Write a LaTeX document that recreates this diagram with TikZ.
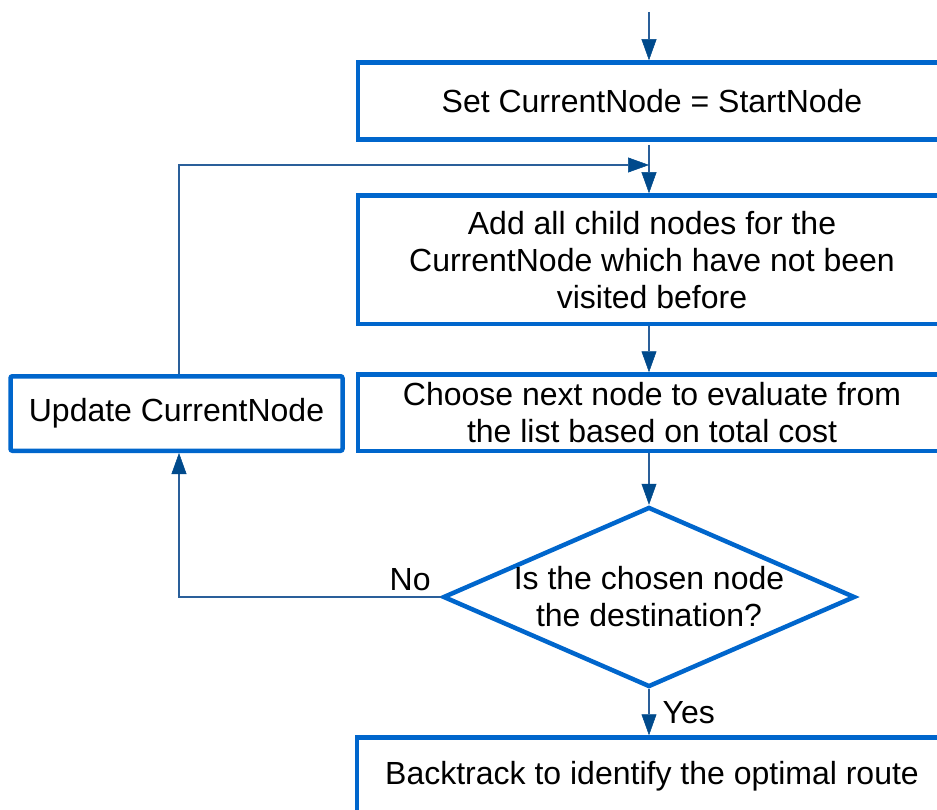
\documentclass[tikz,border=0pt]{standalone}
\usepackage{fontspec}
\setmainfont{Liberation Sans}
\usetikzlibrary{arrows.meta,shapes.geometric,calc}
\definecolor{boxblue}{HTML}{0066CC}
\definecolor{linkblue}{HTML}{2A5F9A}
\definecolor{tipblue}{HTML}{004A8C}

\begin{document}
\begin{tikzpicture}[x=1pt,y=-1pt,
  every node/.style={font=\fontsize{32}{37}\selectfont, text=black},
  box/.style={draw=boxblue, line width=4.5pt, rectangle, align=center, inner sep=0pt},
  decision/.style={draw=boxblue, line width=4.5pt, diamond, shape aspect=2.289,
    align=center, inner sep=-30pt},
  conn/.style={draw=linkblue, line width=1.3pt,
    -{Triangle[length=21pt,width=15pt,color=tipblue,fill=tipblue,line width=0.5pt]}},
  lbl/.style={inner sep=0pt}]
  \useasboundingbox (0,0) rectangle (937,810);
  \clip (0,0) rectangle (937,810);

  % process boxes (they run past the right edge of the page)
  \node[box, minimum width=588pt, minimum height=77pt] (set) at (652,101)
    {Set CurrentNode = StartNode};
  \node[box, minimum width=588pt, minimum height=128.5pt] (add) at (652,259.75)
    {Add all child nodes for the\\CurrentNode which have not been\\visited before};
  \node[box, minimum width=588pt, minimum height=76.5pt] (choose) at (652,412.75)
    {Choose next node to evaluate from\\the list based on total cost};
  \node[box, rounded corners=2pt, minimum width=332pt, minimum height=74.5pt] (upd) at (176.5,413.5)
    {Update CurrentNode};
  \node[decision, minimum width=412pt, minimum height=180pt] (dest) at (649,597)
    {Is the chosen node\\the destination?};
  \node[box, minimum width=590pt, minimum height=77pt] (back) at (652,776)
    {Backtrack to identify the optimal route};

  % helper points of the connectors
  \coordinate (start) at (649,12);
  \coordinate (merge) at (649,145);
  \coordinate (ret) at (649,165);
  \coordinate (loopx) at (179,412);

  % main flow
  \draw[conn] (start) -- (set.north -| start);
  \draw[conn] (merge) -- (add.north -| merge);
  \draw[conn] (add.south -| merge) -- (choose.north -| merge);
  \draw[conn] (choose.south -| merge) -- (dest.north);
  \draw[conn] (dest.south) -- (back.north -| dest.south)
    node[midway, anchor=west, xshift=13pt, lbl] {Yes};

  % "No" branch and loop back
  \draw[conn] (dest.west) -| (upd.south -| loopx);
  \node[lbl, anchor=base east] (no) at ($(dest.west)+(-10,-7)$) {No};
  \draw[conn] (upd.north -| loopx) |- (ret);
\end{tikzpicture}
\end{document}
